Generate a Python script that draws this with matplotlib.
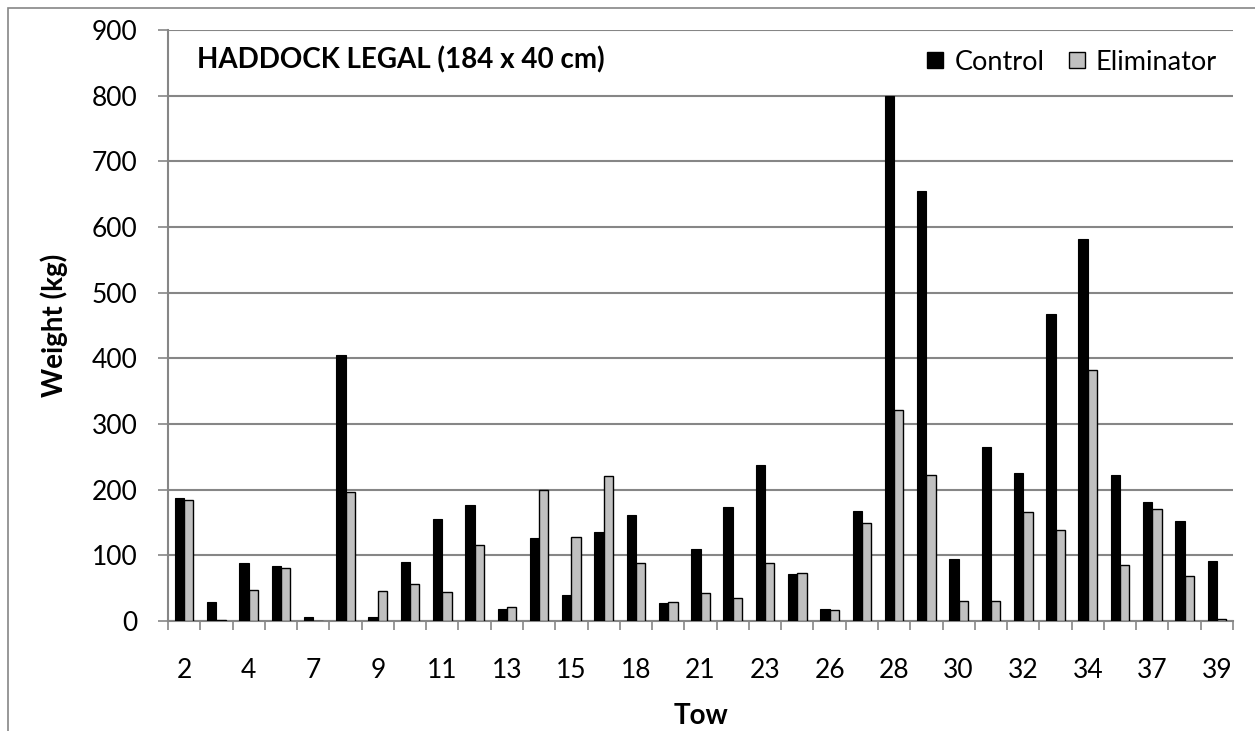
import matplotlib
matplotlib.use('Agg')
import matplotlib.pyplot as plt
from matplotlib.lines import Line2D
import numpy as np

# tows (only every other one is labelled on the axis)
tows = [2, 3, 4, 5, 7, 8, 9, 10, 11, 12, 13, 14, 15, 17, 18, 20, 21,
        22, 23, 25, 26, 27, 28, 29, 30, 31, 32, 33, 34, 36, 37, 38, 39]
control = [187, 29, 88, 84, 6, 405, 6, 90, 155, 176, 19, 126, 39, 136, 162, 27, 109,
           174, 237, 72, 19, 168, 800, 655, 95, 265, 226, 468, 581, 223, 181, 152, 92]
eliminator = [184, 2, 47, 80, 0, 197, 45, 56, 44, 116, 21, 199, 128, 221, 88, 29, 43,
              35, 89, 73, 16, 150, 322, 222, 30, 31, 166, 139, 382, 86, 170, 68, 3]

plt.rcParams['font.family'] = ['Lato', 'DejaVu Sans']

W, H = 1255, 731
fig = plt.figure(figsize=(W / 100, H / 100), dpi=100)
ax = fig.add_axes([168 / W, 1 - 621 / H, (1233 - 168) / W, (621 - 30) / H])

x = np.arange(len(tows))
w = 0.29
grid_c = '#868686'
ax.bar(x - w / 2, control, w, color='black', edgecolor='black', linewidth=0.8, zorder=3)
ax.bar(x + w / 2, eliminator, w, color='#C0C0C0', edgecolor='black', linewidth=1.0, zorder=3)

ax.set_xlim(-0.5, len(tows) - 0.5)
ax.set_ylim(0, 900)
ax.set_yticks(np.arange(0, 901, 100))
ax.yaxis.grid(True, color=grid_c, linewidth=1.5, zorder=0)
ax.set_axisbelow(True)

ax.set_xticks(x[::2])
ax.set_xticklabels([str(t) for t in tows[::2]])
ax.set_xticks(np.arange(-0.5, len(tows), 1), minor=True)
ax.tick_params(axis='x', which='major', length=0, pad=27, labelsize=19)
ax.tick_params(axis='x', which='minor', length=6.5, width=1.2, color=grid_c)
ax.tick_params(axis='y', length=7, width=1.2, color=grid_c, pad=15, labelsize=19)

for s in ['top', 'right']:
    ax.spines[s].set_visible(False)
for s in ['left', 'bottom']:
    ax.spines[s].set_color(grid_c)
    ax.spines[s].set_linewidth(1.5)

ax.set_ylabel('Weight (kg)', fontsize=20, fontweight='bold', labelpad=17)
ax.set_xlabel('Tow', fontsize=20, fontweight='bold', labelpad=14)

fig.text(197 / W, 1 - 68 / H, 'HADDOCK LEGAL (184 x 40 cm)',
         fontsize=20, fontweight='bold', va='baseline', ha='left')

handles = [Line2D([], [], marker='s', linestyle='none', markersize=11.5,
                  markerfacecolor='black', markeredgecolor='black', markeredgewidth=1),
           Line2D([], [], marker='s', linestyle='none', markersize=11.5,
                  markerfacecolor='#C0C0C0', markeredgecolor='black', markeredgewidth=1)]
fig.legend(handles, ['Control', 'Eliminator'], loc='center right',
           bbox_to_anchor=(1217 / W, 1 - 62 / H), ncol=2, frameon=False,
           fontsize=19.5, handlelength=0.6, handletextpad=0.4,
           columnspacing=0.9, borderpad=0, borderaxespad=0)

# chart area border
fig.add_artist(plt.Rectangle((8 / W, -0.01), 1.0, 1 - 8 / H + 0.01,
                             transform=fig.transFigure, fill=False,
                             edgecolor=grid_c, linewidth=1.2))

fig.savefig('out.png', dpi=100)
